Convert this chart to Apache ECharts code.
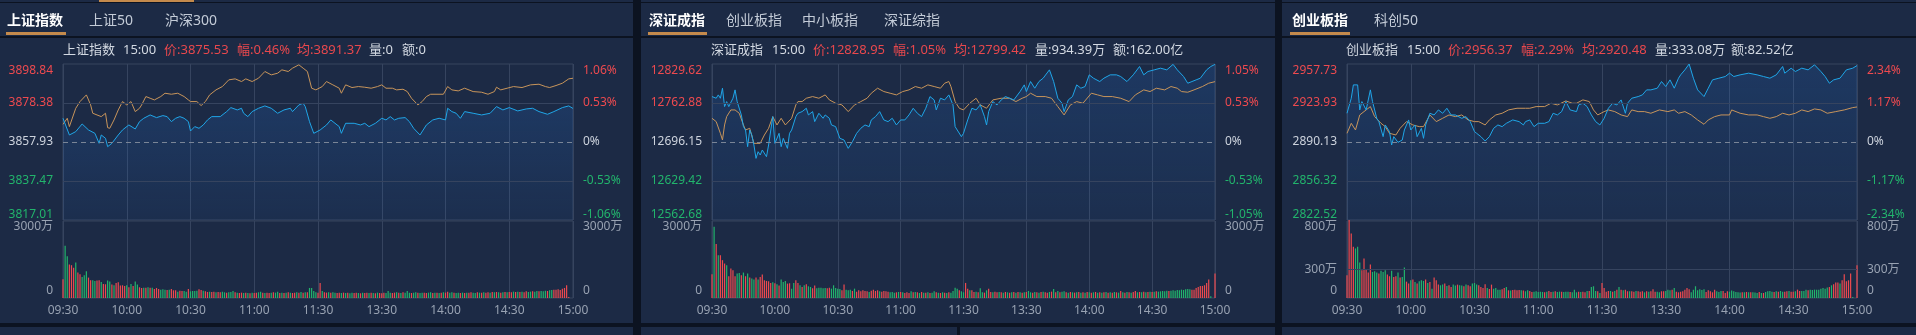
<!DOCTYPE html>
<html>
<head>
<meta charset="utf-8">
<title>指数分时</title>
<script src="https://cdn.jsdelivr.net/npm/echarts@6/dist/echarts.min.js"></script>
<style>
html,body{margin:0;padding:0;width:1916px;height:335px;overflow:hidden;background:#0c1321;}
.bx{position:absolute;background:#1c2a45;}
#chart{position:absolute;left:0;top:0;width:1916px;height:335px;}
</style>
</head>
<body>
<div class="bx" style="left:0;top:0;width:633px;height:2px"></div>
<div class="bx" style="left:641px;top:0;width:634px;height:2px"></div>
<div class="bx" style="left:1282px;top:0;width:634px;height:2px"></div>
<div class="bx" style="left:99px;top:0;width:95px;height:2px;background:#c48a4c"></div>
<div class="bx" style="left:0;top:3px;width:633px;height:33px"></div>
<div class="bx" style="left:0;top:38px;width:633px;height:285px"></div>
<div class="bx" style="left:0;top:327px;width:633px;height:8px"></div>
<div class="bx" style="left:641px;top:3px;width:634px;height:33px"></div>
<div class="bx" style="left:641px;top:38px;width:634px;height:285px"></div>
<div class="bx" style="left:641px;top:327px;width:316px;height:8px"></div>
<div class="bx" style="left:960px;top:327px;width:315px;height:8px"></div>
<div class="bx" style="left:1282px;top:3px;width:634px;height:33px"></div>
<div class="bx" style="left:1282px;top:38px;width:634px;height:285px"></div>
<div class="bx" style="left:1282px;top:327px;width:634px;height:8px"></div>
<div id="chart"></div>
<script>
// ---------------- data ----------------
const TIME_LABELS = ['09:30','10:00','10:30','11:00','11:30','13:30','14:00','14:30','15:00'];

const TABS1 = ['上证指数','上证50','沪深300'];
const TABS2 = ['深证成指','创业板指','中小板指','深证综指'];
const TABS3 = ['创业板指','科创50'];

const HEAD1 = ['上证指数','15:00','价:3875.53','幅:0.46%','均:3891.37','量:0','额:0'];
const HEAD2 = ['深证成指','15:00','价:12828.95','幅:1.05%','均:12799.42','量:934.39万','额:162.00亿'];
const HEAD3 = ['创业板指','15:00','价:2956.37','幅:2.29%','均:2920.48','量:333.08万','额:82.52亿'];

const P1_YLABELS = ['3817.01','3837.47','3857.93','3878.38','3898.84'];
const P1_PCT = ['-1.06%','-0.53%','0%','0.53%','1.06%'];
const P2_YLABELS = ['12562.68','12629.42','12696.15','12762.88','12829.62'];
const P2_PCT = ['-1.05%','-0.53%','0%','0.53%','1.05%'];
const P3_YLABELS = ['2822.52','2856.32','2890.13','2923.93','2957.73'];
const P3_PCT = ['-2.34%','-1.17%','0%','1.17%','2.34%'];

const V1_TICKS = [0,3000], V1_LABELS = ['0','3000万'];
const V2_TICKS = [0,3000], V2_LABELS = ['0','3000万'];
const V3_TICKS = [0,300,800], V3_LABELS = ['0','300万','800万'];

// [minute index, price]
const P1_PRICE = [[0,3870.37],[3,3861.61],[6,3863.36],[9,3867.39],[12,3864.24],[15,3862.48],[17,3857.23],[18,3861.61],[20,3859.86],[21,3855.48],[23,3857.23],[26,3861.61],[28,3864.24],[31,3866.86],[34,3864.76],[36,3868.62],[38,3870.37],[41,3872.12],[44,3870.72],[47,3871.77],[49,3871.24],[51,3868.62],[53,3870.37],[55,3871.24],[57,3870.37],[59,3868.62],[60,3863.71],[62,3865.99],[64,3865.11],[66,3866.86],[68,3869.49],[70,3871.24],[74,3871.24],[77,3873.87],[79,3875.97],[82,3874.75],[84,3875.62],[85,3873.00],[87,3871.24],[89,3873.87],[92,3875.62],[95,3876.85],[98,3875.62],[101,3873.00],[104,3874.75],[107,3875.62],[108,3873.87],[111,3877.38],[113,3878.25],[114,3876.50],[116,3868.62],[118,3862.48],[121,3864.24],[124,3866.86],[126,3869.49],[128,3867.74],[130,3865.99],[131,3862.48],[133,3867.74],[137,3867.74],[140,3866.86],[142,3867.74],[144,3865.99],[147,3867.74],[150,3870.37],[152,3869.49],[154,3871.24],[156,3869.49],[158,3870.37],[161,3870.72],[163,3868.62],[165,3865.11],[168,3861.61],[171,3866.86],[174,3869.49],[177,3870.37],[180,3869.49],[181,3875.62],[183,3873.87],[185,3873.00],[187,3870.37],[189,3873.87],[193,3873.00],[197,3872.12],[201,3873.00],[204,3876.50],[207,3874.75],[210,3875.97],[214,3874.22],[218,3875.27],[221,3875.62],[224,3873.87],[228,3872.47],[231,3873.87],[235,3875.97],[238,3876.85],[240,3875.53]];
const P1_AVG = [[0,3867.22],[2,3870.37],[3,3865.99],[6,3875.62],[8,3879.13],[11,3882.63],[13,3877.38],[14,3873.00],[16,3872.12],[18,3871.24],[20,3873.00],[21,3865.46],[22,3865.11],[24,3869.49],[26,3874.75],[28,3879.13],[30,3877.38],[32,3879.13],[34,3873.87],[36,3875.62],[37,3877.38],[39,3881.76],[41,3880.88],[43,3880.00],[46,3881.76],[48,3883.51],[51,3882.98],[54,3883.51],[57,3881.76],[59,3880.00],[60,3879.13],[63,3879.13],[65,3877.03],[67,3879.13],[69,3882.63],[72,3885.26],[75,3887.01],[78,3890.52],[81,3891.04],[84,3889.64],[86,3891.04],[89,3889.64],[92,3891.39],[95,3894.90],[98,3893.14],[101,3894.02],[103,3895.77],[106,3894.90],[108,3896.65],[111,3898.40],[113,3896.65],[115,3894.90],[117,3886.14],[119,3885.26],[122,3887.01],[124,3889.64],[127,3887.89],[130,3886.14],[131,3883.51],[133,3887.89],[136,3886.49],[139,3887.01],[142,3886.66],[145,3886.14],[148,3887.01],[150,3887.89],[152,3886.14],[155,3886.14],[157,3885.26],[160,3885.61],[162,3884.38],[164,3880.88],[167,3877.38],[169,3879.13],[171,3881.76],[173,3882.98],[176,3882.98],[179,3882.98],[181,3887.01],[183,3885.26],[186,3884.73],[189,3886.14],[193,3884.38],[197,3884.03],[200,3882.98],[203,3884.38],[204,3886.66],[206,3885.26],[209,3886.14],[212,3887.01],[216,3886.49],[220,3887.89],[224,3888.24],[227,3887.01],[229,3886.49],[232,3887.54],[235,3888.76],[238,3891.04],[240,3891.37]];

const P2_PRICE = [[0,12773.89],[2,12771.03],[3,12776.75],[4,12771.03],[5,12788.18],[6,12756.74],[7,12765.31],[8,12756.74],[10,12771.03],[11,12785.32],[12,12765.31],[14,12742.45],[15,12722.44],[16,12716.73],[17,12688.15],[18,12716.73],[19,12708.15],[20,12691.01],[21,12668.14],[22,12679.57],[23,12673.86],[24,12682.43],[26,12671.00],[27,12691.01],[29,12739.59],[30,12693.86],[32,12711.01],[33,12688.15],[34,12702.44],[36,12685.29],[37,12711.01],[38,12716.73],[40,12739.59],[41,12745.31],[43,12748.17],[45,12753.88],[46,12742.45],[48,12748.17],[49,12731.02],[51,12745.31],[53,12736.73],[54,12742.45],[56,12736.73],[57,12725.30],[59,12722.44],[61,12702.44],[63,12699.58],[65,12685.29],[67,12696.72],[69,12711.01],[71,12719.59],[73,12725.30],[75,12722.44],[76,12733.88],[78,12739.59],[80,12748.17],[82,12733.88],[84,12731.02],[86,12736.73],[88,12725.30],[90,12733.88],[92,12733.88],[94,12742.45],[96,12753.88],[98,12745.31],[100,12739.59],[102,12753.88],[104,12773.89],[106,12768.17],[107,12751.02],[109,12771.03],[111,12768.17],[113,12776.75],[115,12759.60],[116,12722.44],[119,12705.30],[120,12711.01],[122,12733.88],[124,12753.88],[126,12751.02],[128,12759.60],[130,12739.59],[131,12725.30],[132,12748.17],[134,12765.31],[136,12759.60],[138,12768.17],[140,12773.89],[142,12771.03],[144,12768.17],[147,12782.46],[149,12793.89],[150,12782.46],[152,12799.61],[154,12788.18],[156,12799.61],[158,12805.33],[161,12819.62],[163,12799.61],[165,12771.03],[167,12762.46],[168,12748.17],[170,12768.17],[172,12773.89],[174,12793.89],[176,12788.18],[178,12791.04],[180,12811.04],[182,12805.33],[185,12799.61],[187,12805.33],[190,12811.04],[193,12811.04],[195,12808.18],[198,12799.61],[201,12811.04],[204,12825.33],[206,12811.04],[208,12816.76],[211,12819.62],[214,12822.47],[217,12819.62],[220,12829.00],[222,12819.62],[225,12808.18],[227,12796.75],[229,12799.61],[231,12802.47],[233,12805.33],[236,12819.62],[238,12825.33],[240,12828.95]];
const P2_AVG = [[0,12736.73],[2,12731.02],[4,12711.01],[5,12699.58],[6,12725.30],[7,12739.59],[9,12751.02],[11,12751.02],[13,12745.31],[15,12725.30],[16,12716.73],[18,12719.59],[20,12693.86],[23,12693.86],[25,12708.15],[27,12719.59],[29,12739.59],[31,12725.30],[33,12736.73],[35,12725.30],[38,12736.73],[40,12759.60],[41,12765.31],[43,12765.31],[45,12771.03],[48,12773.89],[51,12771.03],[54,12776.75],[56,12768.17],[59,12762.46],[62,12759.60],[65,12748.17],[68,12759.60],[71,12765.31],[74,12771.03],[76,12779.60],[79,12788.18],[82,12782.46],[85,12779.60],[88,12776.75],[91,12782.46],[94,12785.32],[97,12791.04],[100,12788.18],[103,12793.89],[106,12791.04],[109,12788.18],[111,12796.75],[113,12799.61],[114,12791.04],[116,12765.31],[118,12753.88],[120,12751.02],[123,12762.46],[126,12771.03],[128,12759.60],[131,12753.88],[134,12768.17],[138,12771.03],[142,12771.03],[145,12765.31],[148,12771.03],[150,12773.89],[152,12779.60],[155,12773.89],[159,12773.89],[162,12771.03],[165,12756.74],[168,12742.45],[171,12759.60],[174,12765.31],[177,12762.46],[181,12779.60],[184,12776.75],[187,12773.89],[191,12773.89],[195,12771.03],[199,12765.31],[202,12776.75],[206,12785.32],[209,12782.46],[212,12788.18],[216,12785.32],[219,12791.04],[222,12788.18],[224,12782.46],[227,12781.32],[230,12785.32],[234,12791.04],[237,12796.75],[240,12799.42]];

const P3_PRICE = [[0,2915.03],[2,2928.05],[3,2939.63],[5,2939.63],[6,2917.92],[7,2925.16],[9,2917.92],[11,2935.29],[12,2925.16],[14,2910.68],[15,2907.79],[17,2894.76],[18,2904.89],[20,2899.10],[21,2887.52],[22,2894.76],[24,2889.84],[26,2891.87],[27,2900.55],[29,2909.24],[30,2900.55],[32,2904.89],[33,2894.76],[35,2902.00],[36,2893.31],[37,2904.89],[39,2915.03],[41,2913.58],[43,2917.92],[45,2915.03],[47,2919.37],[49,2913.58],[51,2913.58],[54,2910.68],[56,2912.13],[58,2907.79],[60,2899.10],[61,2897.66],[63,2894.76],[65,2891.00],[67,2894.76],[69,2902.00],[71,2904.89],[73,2903.45],[75,2906.34],[78,2909.24],[81,2907.79],[83,2904.89],[84,2907.79],[86,2909.24],[88,2903.45],[90,2906.34],[93,2906.34],[95,2907.79],[97,2915.03],[99,2913.58],[101,2916.47],[103,2925.16],[105,2917.92],[108,2916.47],[109,2922.26],[111,2923.71],[113,2920.82],[115,2913.58],[117,2907.79],[119,2904.89],[121,2910.68],[123,2919.37],[125,2923.71],[127,2922.26],[129,2926.61],[131,2915.03],[132,2923.71],[134,2928.05],[137,2929.50],[139,2930.95],[141,2935.29],[143,2935.29],[146,2936.74],[148,2942.53],[150,2938.19],[152,2943.98],[154,2936.74],[156,2945.42],[157,2948.32],[159,2952.66],[161,2957.73],[163,2945.42],[165,2935.29],[168,2929.50],[170,2936.74],[172,2943.98],[175,2945.42],[178,2946.87],[180,2949.77],[182,2946.87],[185,2948.32],[189,2949.77],[193,2948.32],[196,2946.87],[199,2945.42],[202,2948.32],[205,2955.56],[206,2949.77],[209,2954.11],[211,2951.21],[214,2954.11],[217,2952.66],[220,2957.00],[223,2951.21],[225,2946.87],[227,2941.08],[229,2943.98],[232,2945.42],[235,2952.66],[238,2954.11],[240,2956.37]];
const P3_AVG = [[0,2897.66],[2,2906.34],[4,2900.55],[6,2913.58],[9,2917.92],[11,2920.82],[13,2912.13],[16,2906.34],[18,2903.45],[20,2897.66],[23,2896.21],[25,2902.00],[28,2907.79],[31,2904.89],[34,2903.45],[36,2903.45],[39,2913.58],[42,2907.79],[45,2910.68],[48,2913.58],[51,2912.13],[54,2913.58],[57,2909.24],[60,2907.79],[62,2907.79],[65,2904.89],[67,2909.24],[70,2913.58],[73,2915.03],[76,2917.92],[80,2919.37],[84,2919.37],[86,2919.37],[89,2920.82],[93,2920.82],[96,2923.71],[99,2922.26],[103,2925.74],[106,2923.71],[108,2923.71],[111,2926.61],[114,2925.16],[116,2917.92],[118,2913.58],[121,2916.47],[123,2917.92],[126,2916.47],[129,2913.58],[132,2912.13],[134,2917.92],[137,2916.47],[140,2916.47],[143,2915.03],[147,2917.92],[151,2916.47],[154,2917.92],[156,2915.03],[159,2916.47],[162,2913.58],[165,2909.24],[168,2905.47],[170,2909.24],[173,2912.13],[176,2913.58],[180,2913.58],[181,2917.92],[185,2915.03],[189,2913.58],[193,2913.58],[196,2912.13],[199,2910.68],[202,2912.13],[205,2915.03],[208,2913.58],[211,2915.03],[214,2917.92],[217,2916.47],[220,2918.79],[223,2917.92],[226,2915.03],[230,2916.47],[234,2917.92],[238,2919.95],[240,2920.48]];

// per-minute volume (万), 241 bars; direction r=up g=down
const V1 = [
730,2034,1630,1304,1278,1174,1382,991,926,820,
887,1043,795,691,691,665,678,691,626,548,
535,678,639,522,496,587,613,483,496,470,
496,417,548,470,639,522,417,391,404,404,
417,404,404,352,391,352,326,339,326,313,
326,352,300,300,248,287,274,274,248,352,
261,274,274,287,339,313,287,261,235,248,
235,248,222,235,222,248,222,209,222,235,
274,222,209,196,209,196,209,196,183,209,
196,209,222,248,209,196,209,196,209,222,
209,248,196,209,196,209,222,209,196,209,
222,209,235,209,222,222,391,391,274,222,
209,587,274,222,209,222,209,222,209,196,
209,196,209,196,209,183,209,196,209,196,
183,209,196,209,196,209,196,183,209,196,
183,209,196,274,209,196,209,222,209,196,
222,209,274,209,196,209,222,209,196,209,
209,196,209,222,196,209,209,196,209,222,
209,248,209,222,209,196,209,196,209,196,
209,209,222,209,196,222,209,209,222,209,
222,209,235,222,235,222,209,222,235,222,
235,222,248,235,248,235,248,222,261,235,
248,261,248,274,261,274,261,287,274,300,
313,326,326,339,313,365,391,496,40,0,0];
const C1 = 'rggrrrgrrg'+'ggrrggrrgr'+'rggrgrrrrr'+'grgrggrrgr'+'grgrrrgggr'+'grrrgrrggr'+'ggggrrgrrg'+'rrgrrggrgg'+'grgrrgrgrg'+'rrggrgrrgr'+'ggrgrgrgrr'+'grgrgrgggg'+'rrgrrgrggr'+'rgrgrggrrg'+'rgrrgrgrgr'+'rrgggrrgrg'+'rgggrggrgg'+'rrggrgrgrg'+'rrggrggrgr'+'grrggrgrgr'+'rgrgrgrgrg'+'rrgrgrgrrg'+'grggrgggrg'+'grrrrrrrrrr';

const V2 = [
926,2778,2100,1669,1669,1474,1343,1278,848,1148,
1082,848,952,978,887,991,848,952,795,756,
717,795,717,822,913,691,665,652,587,613,
574,535,483,717,626,665,561,574,365,587,
691,587,496,430,496,535,456,430,378,483,
378,404,404,378,391,378,404,365,496,391,
365,352,300,522,326,300,326,274,365,248,
300,261,300,274,261,235,287,326,274,300,
261,248,274,261,248,222,235,209,222,235,
235,222,196,222,196,261,222,235,222,196,
235,209,209,222,196,209,261,222,209,196,
222,209,196,222,209,274,404,365,300,261,
222,587,365,300,300,235,248,222,378,222,
209,300,365,235,222,248,222,235,222,209,
235,222,209,222,235,209,235,222,209,222,
235,274,222,209,235,222,209,235,248,222,
209,235,248,352,222,274,222,248,261,222,
209,235,222,209,222,235,209,222,209,235,
222,209,222,235,209,222,209,222,235,209,
222,209,235,222,209,274,222,209,235,222,
209,235,274,222,235,222,248,222,235,248,
235,248,261,248,261,274,261,287,274,287,
300,287,313,300,326,313,339,352,339,326,
326,391,430,470,470,496,587,717,65,0,952];
const C2 = 'rgrgrrrgrr'+'rrggrgrgrg'+'grgrrrrrrg'+'rgrgggrrgg'+'rrgrgrggrr'+'gggggrrggg'+'ggrrgggrgr'+'rrrrrgrrrr'+'grrrrgggrg'+'rgrrrgrgrg'+'rgrgrggrgr'+'grgrggggrg'+'grrgrrgrgg'+'rgrrgrrgrg'+'rgrgrgrgrg'+'rggrgrgrgr'+'rgrgrgrggr'+'grgrgrgrgr'+'grgrgrgrgr'+'grgrgrgrgr'+'grrgrgrgrg'+'rgrgggggrg'+'gggggggggr'+'rrrrrrrrggr';

const V3 = [
237,810,671,532,515,532,369,289,410,299,
264,348,271,278,264,254,282,271,289,243,
226,282,219,226,264,212,219,316,170,150,
184,191,167,150,174,184,177,191,157,167,
97,212,184,139,132,139,150,125,132,115,
139,129,139,132,129,122,139,132,122,150,
156,139,132,115,104,143,104,94,139,97,
104,87,87,90,104,115,80,77,83,87,
80,83,80,77,70,80,73,63,66,70,
63,66,63,59,66,73,63,66,70,63,
66,66,63,66,66,63,59,87,59,66,
63,66,59,73,73,115,122,73,70,52,
157,104,66,73,73,66,73,87,115,87,
80,87,70,70,70,66,73,70,66,70,
59,70,66,70,90,66,66,59,70,70,
73,87,80,87,104,66,59,66,70,87,
104,90,59,87,122,80,90,83,90,63,
80,70,59,87,70,63,73,73,52,70,
66,77,70,63,59,56,59,59,63,59,
59,59,56,52,63,52,52,63,70,73,
66,63,70,66,73,66,66,70,73,66,
66,70,87,73,73,73,87,80,87,83,
87,87,87,97,104,97,108,115,132,143,
160,160,150,184,247,174,184,254,10,0,341];
const C3 = 'rrrrgggrrr'+'rrgggrgggr'+'rgrrgrggrr'+'grgrgggrgr'+'grrrggrgrr'+'ggrggrgrrg'+'ggrrrrgrrg'+'gggrrgrgrr'+'rrgrggrrgg'+'gggrgrrgrg'+'grgggrgggr'+'grrgrgggrg'+'rrrrgrgrgr'+'grrgrrgrrr'+'grgrrrggrr'+'gggrgrrrrr'+'rrgggggggr'+'rrrrgggrrr'+'ggggggrgrg'+'rgggrgrggg'+'grgrggrrgr'+'rgrrgggrgg'+'gggggggrgr'+'rrgrrrrrggr';

// ---------------- styling / layout ----------------
const FONT = '"Noto Sans", "Noto Sans CJK SC", sans-serif';
const RED = '#ee4a4f', GREEN = '#22b46c', WHITE = '#cdd3dd', GREY = '#98a2b2';
const BLUE = '#20a6e8', ORANGE = '#c8955b', GRIDC = '#36445f', DASHC = '#7a8597';
const HEAD_COLORS = ['#d3d9e2','#d3d9e2','#e8484d','#e8484d','#e8484d','#d3d9e2','#d3d9e2'];

const PANELS = [
  {tabs:TABS1, head:HEAD1, yl:P1_YLABELS, yp:P1_PCT, price:P1_PRICE, avg:P1_AVG, vol:V1, vc:C1, vt:V1_TICKS, vlab:V1_LABELS, vstep:3000,
   L:{gx:63, gw:510, hx:[63,123,164,237,297,369,402], tx:[7,89,165], ul:[6,60]}},
  {tabs:TABS2, head:HEAD2, yl:P2_YLABELS, yp:P2_PCT, price:P2_PRICE, avg:P2_AVG, vol:V2, vc:C2, vt:V2_TICKS, vlab:V2_LABELS, vstep:3000,
   L:{gx:712, gw:503, hx:[711,772,813,893,954,1035,1113], tx:[649,726,802,884], ul:[648,59]}},
  {tabs:TABS3, head:HEAD3, yl:P3_YLABELS, yp:P3_PCT, price:P3_PRICE, avg:P3_AVG, vol:V3, vc:C3, vt:V3_TICKS, vlab:V3_LABELS, vstep:100,
   L:{gx:1347, gw:510, hx:[1346,1407,1448,1521,1582,1655,1731], tx:[1292,1374], ul:[1290,60]}}
];

const MAIN_TOP = 64, MAIN_H = 156, VOL_TOP = 221, VOL_H = 77;

const lbl = (c, pad) => ({color:c, fontSize:12, fontFamily:FONT, padding:pad || [0,0,0,0]});
const MAIN_RICH = {
  rT: lbl(RED,[13,0,0,0]), r: lbl(RED), w: lbl(WHITE), g: lbl(GREEN), gB: lbl(GREEN,[0,0,11,0])
};
const VOL_RICH = { vT: lbl(GREY,[11,0,0,0]), v: lbl(GREY), vB: lbl(GREY,[0,0,14,0]) };

function mainFmt(lo, step, labels) {
  return function (v) {
    const k = Math.round((v - lo) / step);
    const s = labels[k];
    if (s === undefined) return '';
    const c = k >= 3 ? 'r' : (k === 2 ? 'w' : 'g');
    const p = k === 4 ? 'T' : (k === 0 ? 'B' : '');
    return '{' + c + p + '|' + s + '}';
  };
}
function volFmt(ticks, labels) {
  const max = ticks[ticks.length - 1];
  return function (v) {
    const i = ticks.indexOf(v);
    if (i < 0) return '';
    const key = v === max ? 'vT' : (v === 0 ? 'vB' : 'v');
    return '{' + key + '|' + labels[i] + '}';
  };
}

const grid = [], xAxis = [], yAxis = [], series = [], graphic = [];

PANELS.forEach((P, p) => {
  const L = P.L;
  const lo = parseFloat(P.yl[0]), hi = parseFloat(P.yl[4]);
  const step = +((hi - lo) / 4).toFixed(6);
  const vmax = P.vt[P.vt.length - 1];

  grid.push({left:L.gx, top:MAIN_TOP, width:L.gw, height:MAIN_H, show:true, borderColor:GRIDC, borderWidth:1, backgroundColor:'transparent', containLabel:false, outerBoundsMode:'none'});
  grid.push({left:L.gx, top:VOL_TOP, width:L.gw, height:VOL_H, show:true, borderColor:GRIDC, borderWidth:1, backgroundColor:'transparent', containLabel:false, outerBoundsMode:'none'});

  const xBase = {type:'value', min:0, max:240, interval:30,
    axisLine:{show:false}, axisTick:{show:false},
    splitLine:{show:true, lineStyle:{color:GRIDC, width:1}}};
  xAxis.push(Object.assign({}, xBase, {gridIndex:2*p, axisLabel:{show:false}}));
  xAxis.push(Object.assign({}, xBase, {gridIndex:2*p+1, axisLabel:{show:true, color:GREY, fontSize:12, fontFamily:FONT, margin:7, hideOverlap:false, showMinLabel:true, showMaxLabel:true,
    formatter: v => TIME_LABELS[Math.round(v / 30)] || ''}}));

  const yBase = {type:'value', axisLine:{show:false}, axisTick:{show:false}, splitLine:{show:false}};
  yAxis.push(Object.assign({}, yBase, {gridIndex:2*p, position:'left', min:lo, max:hi, interval:step,
    axisLabel:{margin:10, formatter:mainFmt(lo, step, P.yl), rich:MAIN_RICH, showMinLabel:true, showMaxLabel:true, hideOverlap:false}}));
  yAxis.push(Object.assign({}, yBase, {gridIndex:2*p, position:'right', min:lo, max:hi, interval:step,
    axisLabel:{margin:10, formatter:mainFmt(lo, step, P.yp), rich:MAIN_RICH, showMinLabel:true, showMaxLabel:true, hideOverlap:false}}));
  yAxis.push(Object.assign({}, yBase, {gridIndex:2*p+1, position:'left', min:0, max:vmax, interval:P.vstep,
    axisLabel:{margin:10, formatter:volFmt(P.vt, P.vlab), rich:VOL_RICH, showMinLabel:true, showMaxLabel:true, hideOverlap:false}}));
  yAxis.push(Object.assign({}, yBase, {gridIndex:2*p+1, position:'right', min:0, max:vmax, interval:P.vstep,
    axisLabel:{margin:10, formatter:volFmt(P.vt, P.vlab), rich:VOL_RICH, showMinLabel:true, showMaxLabel:true, hideOverlap:false}}));

  const mid = parseFloat(P.yl[2]);
  series.push({type:'line', xAxisIndex:2*p, yAxisIndex:4*p, data:P.price, symbol:'none', silent:true, z:1,
    lineStyle:{width:0, opacity:0},
    areaStyle:{origin:'start', color:new echarts.graphic.LinearGradient(0,0,0,1,[
      {offset:0, color:'rgba(38,112,205,0.30)'}, {offset:1, color:'rgba(38,112,205,0.10)'}])}});
  series.push({type:'line', xAxisIndex:2*p, yAxisIndex:4*p, data:P.avg, symbol:'none', silent:true, z:3,
    lineStyle:{color:ORANGE, width:1}});
  series.push({type:'line', xAxisIndex:2*p, yAxisIndex:4*p, data:P.price, symbol:'none', silent:true, z:4,
    lineStyle:{color:BLUE, width:1},
    markLine:{silent:true, symbol:['none','none'], label:{show:false}, animation:false,
      data:[
        {yAxis:parseFloat(P.yl[1]), lineStyle:{color:GRIDC, width:1, type:'solid'}},
        {yAxis:parseFloat(P.yl[3]), lineStyle:{color:GRIDC, width:1, type:'solid'}},
        {yAxis:mid, lineStyle:{color:DASHC, width:1, type:[5,4]}}
      ]}});
  const midTicks = P.vt.slice(1, -1);
  series.push({type:'bar', xAxisIndex:2*p+1, yAxisIndex:4*p+2, barWidth:1.2, silent:true, clip:false, z:3,
    data:P.vol.map((v, i) => ({value:[i, v], itemStyle:{color: P.vc[i] === 'r' ? RED : GREEN}})),
    markLine: midTicks.length ? {silent:true, symbol:['none','none'], label:{show:false}, animation:false,
      data: midTicks.map(t => ({yAxis:t, lineStyle:{color:GRIDC, width:1, type:'solid'}}))} : undefined});

  // tabs
  P.tabs.forEach((t, i) => {
    graphic.push({type:'text', x:L.tx[i], y:21, z:10, silent:true,
      style:{text:t, fill: i === 0 ? '#ffffff' : '#c3cbd7', font:(i === 0 ? 'bold ' : '') + '14px ' + FONT, verticalAlign:'middle', align:'left'}});
  });
  graphic.push({type:'rect', z:10, silent:true, shape:{x:L.ul[0], y:32, width:L.ul[1], height:3}, style:{fill:'#c48a4c'}});
  // header line segments
  P.head.forEach((s, i) => {
    graphic.push({type:'text', x:L.hx[i], y:50, z:10, silent:true,
      style:{text:s, fill:HEAD_COLORS[i], font:'13px ' + FONT, verticalAlign:'middle', align:'left'}});
  });
});

const chart = echarts.init(document.getElementById('chart'), null, {renderer:'canvas'});
chart.setOption({
  backgroundColor:'transparent',
  animation:false,
  textStyle:{fontFamily:FONT},
  grid, xAxis, yAxis, series, graphic
});
</script>
</body>
</html>
